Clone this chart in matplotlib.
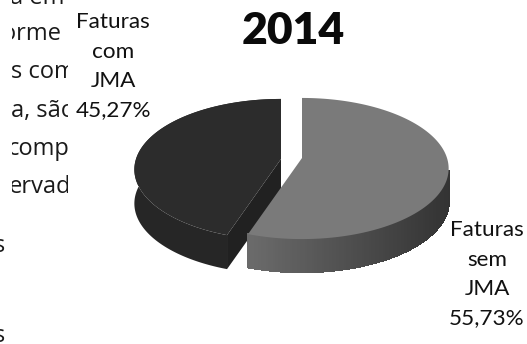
import numpy as np
import matplotlib
matplotlib.use("Agg")
import matplotlib.pyplot as plt
from matplotlib.collections import PolyCollection
from matplotlib.patches import Polygon, Rectangle

# Invoice shares for 2014
categories = ["Faturas\ncom\nJMA", "Faturas\nsem\nJMA"]
shares = [45.27, 55.73]
title = "2014"
page_lines = [("a em", 10, 4), ("conforme", 62, 40), ("s com", 11, 78), ("a, são", 11, 117),
              ("comp", 8, 155), ("ervad", 9, 193), ("s", -6, 252), ("s", -6, 342)]

fig = plt.figure(figsize=(5.27, 3.44), dpi=100)
ax = fig.add_axes([0, 0, 1, 1])
ax.set_xlim(0, 527)
ax.set_ylim(344, 0)
ax.axis("off")

PERSP = 0.149


def rim(theta, cx, cy, dy=0.0):
    """Project a circle point (clockwise from the back) onto the tilted disc."""
    X = np.sin(theta)
    Y = -np.cos(theta)
    s = 1 / (1 - PERSP * Y)
    return np.column_stack([cx + 145 * X * s, cy + 69 * Y * s + dy])


fractions = np.array(shares) / np.sum(shares)
split = 2 * np.pi * fractions[1]  # clockwise end of the lighter slice

# Dark slice, exploded to the left
dark_c = (281, 159)
dark_depth = 34
t_dark = np.linspace(split, 2 * np.pi, 160)
top_dark = rim(t_dark, *dark_c)
bot_dark = rim(t_dark, *dark_c, dy=dark_depth)
ax.add_patch(Polygon(np.vstack([top_dark, bot_dark[::-1]]), fc="#262626", ec="none", zorder=1))
cut = np.array([dark_c, top_dark[0], bot_dark[0], (dark_c[0], dark_c[1] + dark_depth)])
ax.add_patch(Polygon(cut, fc="#212121", ec="none", zorder=2))
ax.add_patch(Polygon(np.vstack([[dark_c], top_dark]), fc="#2c2c2c", ec="none", zorder=3))

# Light slice with a shaded outer wall
light_c = (302, 158)
light_depth = 33
t_light = np.linspace(0, split, 240)
top_light = rim(t_light, *light_c)
bot_light = rim(t_light, *light_c, dy=light_depth)
front = np.where(top_light[:, 1] > light_c[1] + 12)[0]
x_right = top_light[front[0], 0]
x_left = top_light[front[-1], 0]
quads, cols = [], []
for i in front[:-1]:
    quads.append([top_light[i], top_light[i + 1], bot_light[i + 1], bot_light[i]])
    level = 0.42 - 0.22 * (top_light[i, 0] - x_left) / (x_right - x_left)
    cols.append((level, level, level))
ax.add_collection(PolyCollection(quads, facecolors=cols, edgecolors=cols, linewidths=1.0,
                                 antialiaseds=False, zorder=4))
ax.add_patch(Polygon(np.vstack([[light_c], top_light]), fc="#7a7a7a", ec="none", zorder=5))

# Title and slice labels
ax.text(293, 44, title, ha="center", va="baseline", family="Lato", weight="heavy", fontsize=32, color="#0a0a0a")


def label(x, y, name, share):
    text = name + "\n" + f"{share:.2f}".replace(".", ",") + "%"
    for k, line in enumerate(text.split("\n")):
        ax.text(x, y + 29.5 * k, line, ha="center", va="baseline", family="Lato", fontsize=16.2, color="#111111")


label(113, 28, categories[0], shares[0])
label(487, 236, categories[1], shares[1])

# Fragment of running page text beside the chart, cut by the chart's frame
upper = Rectangle((12, 0), 56, 236, transform=ax.transData)
lower = Rectangle((0, 236), 68, 108, transform=ax.transData)
for line, x, y in page_lines:
    t = ax.text(x, y, line, ha="right" if line == "conforme" else "left", va="baseline",
                family="Open Sans", fontsize=17, color="#1a1a1a")
    t.set_clip_path(upper if y < 236 else lower)
    t.set_clip_on(True)

fig.savefig("out.png", dpi=100)
